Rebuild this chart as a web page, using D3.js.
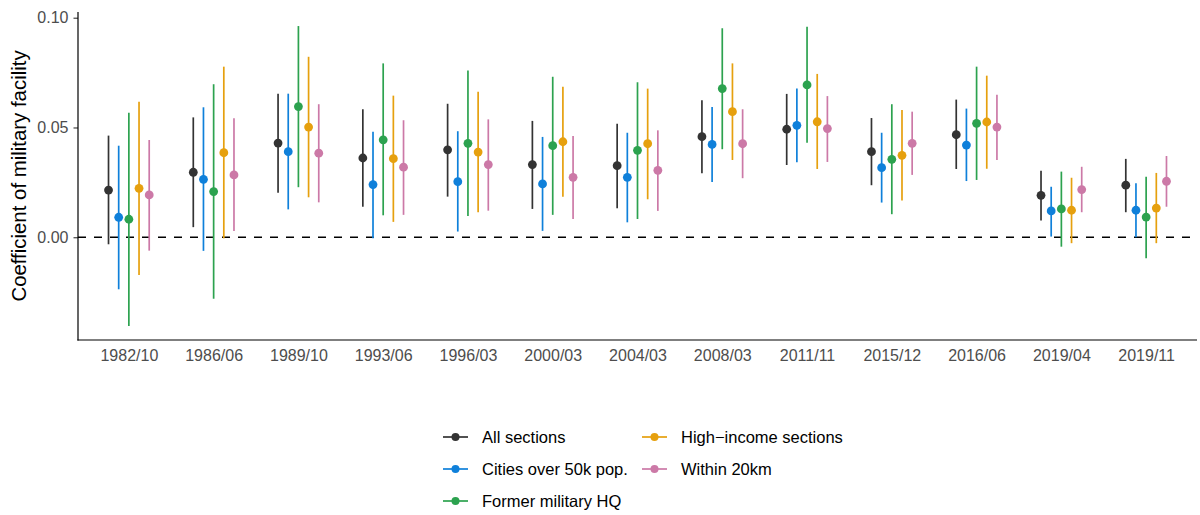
<!DOCTYPE html>
<html>
<head>
<meta charset="utf-8">
<script src="https://cdn.jsdelivr.net/npm/d3@7"></script>
<style>
  html, body { margin: 0; padding: 0; background: #fff; }
  svg { display: block; font-family: "Liberation Sans", Arial, sans-serif; }
</style>
</head>
<body>
<svg id="chart" width="1200" height="515"></svg>
<script>
// Survey waves on the x axis
const waves = ["1982/10","1986/06","1989/10","1993/06","1996/03","2000/03","2004/03",
               "2008/03","2011/11","2015/12","2016/06","2019/04","2019/11"];

// Point estimates and 95% interval bounds, one set per sample
const estAll = [0.0215,0.0296,0.0429,0.0361,0.0398,0.0331,0.0326,0.0458,0.0492,0.0390,0.0467,0.0191,0.0237];
const loAll  = [-0.0032,0.0046,0.0203,0.0139,0.0185,0.0129,0.0132,0.0291,0.0329,0.0237,0.0311,0.0076,0.0114];
const hiAll  = [0.0463,0.0546,0.0654,0.0583,0.0608,0.0530,0.0517,0.0624,0.0653,0.0543,0.0627,0.0303,0.0357];

const estCity = [0.0091,0.0264,0.0390,0.0240,0.0253,0.0243,0.0273,0.0423,0.0510,0.0317,0.0420,0.0120,0.0123];
const loCity  = [-0.0237,-0.0062,0.0127,-0.0005,0.0026,0.0029,0.0068,0.0252,0.0342,0.0158,0.0256,0.0003,0.0000];
const hiCity  = [0.0417,0.0592,0.0654,0.0481,0.0483,0.0457,0.0476,0.0593,0.0677,0.0476,0.0586,0.0230,0.0246];

const estHQ = [0.0082,0.0208,0.0595,0.0444,0.0428,0.0417,0.0396,0.0677,0.0694,0.0355,0.0519,0.0129,0.0092];
const loHQ  = [-0.0404,-0.0280,0.0228,0.0100,0.0097,0.0102,0.0083,0.0401,0.0431,0.0105,0.0261,-0.0043,-0.0096];
const hiHQ  = [0.0567,0.0697,0.0962,0.0792,0.0759,0.0731,0.0706,0.0952,0.0959,0.0606,0.0777,0.0299,0.0276];

const estIncome = [0.0223,0.0385,0.0502,0.0358,0.0388,0.0435,0.0426,0.0572,0.0526,0.0373,0.0525,0.0123,0.0133];
const loIncome  = [-0.0172,-0.0005,0.0182,0.0070,0.0114,0.0184,0.0173,0.0352,0.0311,0.0167,0.0312,-0.0027,-0.0027];
const hiIncome  = [0.0617,0.0777,0.0822,0.0645,0.0663,0.0686,0.0677,0.0792,0.0744,0.0580,0.0736,0.0271,0.0293];

const est20km = [0.0193,0.0284,0.0383,0.0319,0.0331,0.0273,0.0305,0.0426,0.0495,0.0428,0.0502,0.0217,0.0255];
const lo20km  = [-0.0061,0.0029,0.0159,0.0102,0.0121,0.0083,0.0120,0.0269,0.0343,0.0284,0.0352,0.0114,0.0139];
const hi20km  = [0.0443,0.0542,0.0606,0.0533,0.0537,0.0461,0.0487,0.0583,0.0643,0.0572,0.0649,0.0321,0.0370];

const seriesNames = ["All sections","Cities over 50k pop.","Former military HQ","High\u2212income sections","Within 20km"];
const seriesColors = ["#333333","#0F80DA","#2CA24F","#E6A00E","#CC79A7"];
const yTicks = [0.00, 0.05, 0.10];

const series = [
  {est: estAll, lo: loAll, hi: hiAll},
  {est: estCity, lo: loCity, hi: hiCity},
  {est: estHQ, lo: loHQ, hi: hiHQ},
  {est: estIncome, lo: loIncome, hi: hiIncome},
  {est: est20km, lo: lo20km, hi: hi20km}
].map((s, i) => ({name: seriesNames[i], color: seriesColors[i], idx: i,
  points: waves.map((w, j) => ({wave: w, est: s.est[j], lo: s.lo[j], hi: s.hi[j]}))}));

const svg = d3.select("#chart");
const plotLeft = 78, plotRight = 1197, plotTop = 12, plotBottom = 340;

const x = d3.scalePoint().domain(waves).range([plotLeft, plotRight]).padding(0.6);
const y = d3.scaleLinear().domain([-0.0468, 0.1026]).range([plotBottom, plotTop]);
const dodge = d3.scaleLinear().domain([0, seriesNames.length - 1])
  .range([-0.24 * x.step(), 0.24 * x.step()]);

// Reference line at zero
svg.append("line")
  .attr("x1", plotLeft).attr("x2", plotRight)
  .attr("y1", y(0)).attr("y2", y(0))
  .attr("stroke", "#000").attr("stroke-width", 1.5)
  .attr("stroke-dasharray", "8,8");

// Point ranges, one group per sample
const groups = svg.append("g").selectAll("g.series")
  .data(series).join("g").attr("class", "series");

groups.each(function(s) {
  const g = d3.select(this);
  const off = dodge(s.idx);
  g.selectAll("line").data(s.points).join("line")
    .attr("x1", d => x(d.wave) + off).attr("x2", d => x(d.wave) + off)
    .attr("y1", d => y(d.lo)).attr("y2", d => y(d.hi))
    .attr("stroke", s.color).attr("stroke-width", 1.7);
  g.selectAll("circle").data(s.points).join("circle")
    .attr("cx", d => x(d.wave) + off).attr("cy", d => y(d.est))
    .attr("r", 4.4).attr("fill", s.color);
});

// Axes
const yAxis = svg.append("g").attr("transform", `translate(${plotLeft},0)`)
  .call(d3.axisLeft(y).tickValues(yTicks).tickFormat(d3.format(".2f")).tickSize(4.5).tickPadding(5));
yAxis.select(".domain").remove();
yAxis.selectAll(".tick line").attr("stroke", "#333").attr("stroke-width", 1.1);
yAxis.selectAll(".tick text").attr("fill", "#4d4d4d").style("font-size", "16px")
  .style("font-family", "'Liberation Sans', Arial, sans-serif");

const xAxis = svg.append("g").attr("transform", `translate(0,${plotBottom})`)
  .call(d3.axisBottom(x).tickSize(0).tickPadding(10));
xAxis.select(".domain").remove();
xAxis.selectAll(".tick text").attr("fill", "#4d4d4d").style("font-size", "16px")
  .style("font-family", "'Liberation Sans', Arial, sans-serif");

// Axis lines
svg.append("line").attr("x1", plotLeft).attr("x2", plotLeft).attr("y1", plotTop).attr("y2", plotBottom + 0.6)
  .attr("stroke", "#000").attr("stroke-width", 1.2);
svg.append("line").attr("x1", plotLeft - 0.6).attr("x2", plotRight).attr("y1", plotBottom).attr("y2", plotBottom)
  .attr("stroke", "#000").attr("stroke-width", 1.2);

// Y axis title
svg.append("text")
  .attr("transform", `translate(26,${(plotTop + plotBottom) / 2}) rotate(-90)`)
  .attr("text-anchor", "middle")
  .style("font-size", "20.4px").attr("fill", "#000")
  .text("Coefficient of military facility");

// Legend in two columns
const legendX = [443, 642], legendY = [437, 469, 501];
const legend = svg.append("g").selectAll("g").data(series).join("g")
  .attr("transform", (d, i) => {
    const col = Math.floor(i / 3), row = i % 3;
    return `translate(${legendX[col]},${legendY[row]})`;
  });
legend.append("line").attr("x1", 0).attr("x2", 25).attr("y1", 0).attr("y2", 0)
  .attr("stroke", d => d.color).attr("stroke-width", 1.7);
legend.append("circle").attr("cx", 12.5).attr("cy", 0).attr("r", 4)
  .attr("fill", d => d.color);
legend.append("text").attr("x", 39).attr("y", 0).attr("dy", "0.36em")
  .style("font-size", "16.5px").attr("fill", "#000")
  .text(d => d.name);
</script>
</body>
</html>
